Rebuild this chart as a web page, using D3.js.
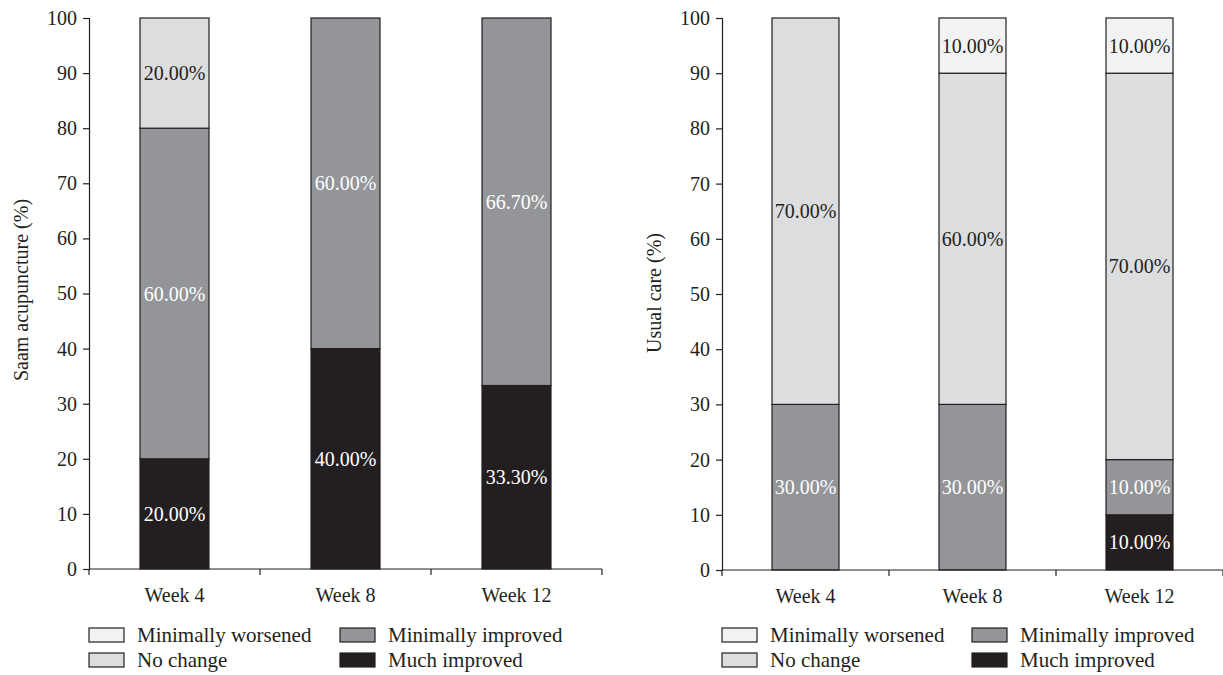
<!DOCTYPE html>
<html><head><meta charset="utf-8">
<script src="https://cdn.jsdelivr.net/npm/d3@7"></script>
<style>body{margin:0;background:#fff}svg{display:block}text{font-family:"Liberation Serif","DejaVu Serif",serif;fill:#231f20}</style>
</head><body><svg id="c" width="1223" height="675"></svg>
<script>
const weeks = ["Week 4", "Week 8", "Week 12"];
const seriesNames = ["Much improved", "Minimally improved", "No change", "Minimally worsened"];
const seriesColors = ["#231f20", "#939598", "#dcdddf", "#f1f2f2"];
const labelColors = ["#ffffff", "#ffffff", "#231f20", "#231f20"];
const yTicks = [0,10,20,30,40,50,60,70,80,90,100];
// Saam acupuncture
const saamMuch = [20, 40, 33.3];
const saamMinImp = [60, 60, 66.7];
const saamNoChange = [20, 0, 0];
const saamMinWorse = [0, 0, 0];
// Usual care
const usualMuch = [0, 0, 10];
const usualMinImp = [30, 30, 10];
const usualNoChange = [70, 60, 70];
const usualMinWorse = [0, 10, 10];

const svg = d3.select("#c");
const ink = "#231f20";
const FS = 20;

function panel(opt, series) {
  const g = svg.append("g");
  const x = d3.scaleBand().domain(weeks).range([opt.x0, opt.x1]).padding(0);
  const y = d3.scaleLinear().domain([0,100]).range([opt.yb, opt.yt]);
  const bw = opt.bw;
  weeks.forEach((w, i) => {
    let base = 0;
    series.forEach((arr, s) => {
      const v = arr[i];
      if (v > 0) {
        const cx = x(w) + x.bandwidth()/2;
        g.append("rect").attr("x", cx - bw/2).attr("width", bw)
          .attr("y", y(base + v)).attr("height", y(base) - y(base + v))
          .attr("fill", seriesColors[s]).attr("stroke", ink).attr("stroke-width", 1.2);
        g.append("text").attr("x", cx).attr("y", y(base + v/2)).attr("dy", "0.35em")
          .attr("text-anchor", "middle").attr("font-size", FS)
          .style("fill", labelColors[s]).text(v.toFixed(2) + "%");
      }
      base += v;
    });
  });
  // y axis
  const ya = g.append("g").attr("transform", `translate(${opt.x0},0)`)
    .call(d3.axisLeft(y).tickValues(yTicks).tickSize(6).tickPadding(6));
  ya.select(".domain").attr("stroke", ink).attr("stroke-width", 1.2);
  ya.selectAll(".tick line").attr("stroke", ink).attr("stroke-width", 1.2);
  ya.selectAll(".tick text").attr("font-size", FS).attr("font-family", "Liberation Serif").style("fill", ink);
  // x axis
  g.append("line").attr("x1", opt.x0).attr("x2", opt.x1).attr("y1", opt.yb).attr("y2", opt.yb)
    .attr("stroke", ink).attr("stroke-width", 1.2);
  const bounds = weeks.map(w => x(w)).concat([opt.x1]);
  bounds.forEach(b => g.append("line").attr("x1", b).attr("x2", b).attr("y1", opt.yb).attr("y2", opt.yb + 6)
    .attr("stroke", ink).attr("stroke-width", 1.2));
  weeks.forEach(w => g.append("text").attr("x", x(w) + x.bandwidth()/2).attr("y", opt.yb + 33)
    .attr("text-anchor", "middle").attr("font-size", FS).text(w));
  // y title
  g.append("text").attr("transform", `translate(${opt.titleX},${opt.titleY}) rotate(-90)`)
    .attr("text-anchor", "middle").attr("font-size", FS).text(opt.title);
  // legend
  const leg = [[3, 0, 0], [1, 1, 0], [2, 0, 1], [0, 1, 1]];
  leg.forEach(([s, col, row]) => {
    const lx = opt.x0 + col * opt.legCol;
    const ly = 635 + row * 25;
    g.append("rect").attr("x", lx).attr("y", ly - 7).attr("width", 35).attr("height", 14)
      .attr("fill", seriesColors[s]).attr("stroke", ink).attr("stroke-width", 1.2);
    g.append("text").attr("x", lx + 48).attr("y", ly).attr("dy", "0.35em")
      .attr("font-size", 21).text(seriesNames[s]);
  });
}

panel({x0: 89, x1: 602, yt: 18, yb: 569, bw: 69, titleX: 28, titleY: 290, title: "Saam acupuncture (%)", legCol: 251},
  [saamMuch, saamMinImp, saamNoChange, saamMinWorse]);
panel({x0: 722, x1: 1223, yt: 18, yb: 570, bw: 67, titleX: 661, titleY: 293, title: "Usual care (%)", legCol: 250},
  [usualMuch, usualMinImp, usualNoChange, usualMinWorse]);
</script></body></html>
